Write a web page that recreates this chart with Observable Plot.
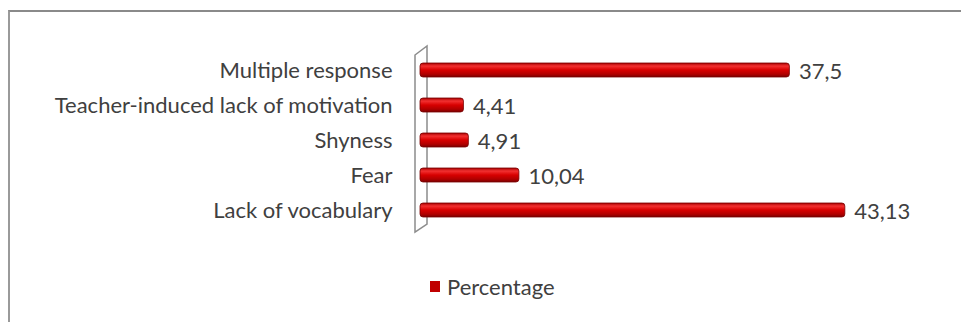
<!DOCTYPE html>
<html>
<head>
<meta charset="utf-8">
<script src="https://cdn.jsdelivr.net/npm/d3@7"></script>
<script src="https://cdn.jsdelivr.net/npm/@observablehq/plot@0.6"></script>
<style>
  html, body { margin: 0; padding: 0; background: #fff; }
  #wrap { position: relative; width: 961px; height: 322px; overflow: hidden; background: #fff; font-family: Lato, "Open Sans", sans-serif; }
  #frame { position: absolute; left: 8px; top: 10px; width: 960px; height: 330px; border-top: 2px solid #8a8a8a; border-left: 2px solid #9a9a9a; box-sizing: border-box; }
  #chart { position: absolute; left: 0; top: 0; }
  #legend { position: absolute; left: 430px; top: 273px; font-size: 22px; color: #404040; display: flex; align-items: center; }
  #legend .sw { width: 10px; height: 11px; background: #c00000; margin-right: 7px; }
</style>
</head>
<body>
<div id="wrap">
  <div id="frame"></div>
  <div id="chart"></div>
  <div id="legend"><span class="sw"></span><span id="legendLabel"></span></div>
</div>
<script>
const categories = ["Multiple response", "Teacher-induced lack of motivation", "Shyness", "Fear", "Lack of vocabulary"];
const values = [37.5, 4.41, 4.91, 10.04, 43.13];
const valueLabels = ["37,5", "4,41", "4,91", "10,04", "43,13"];
const seriesName = "Percentage";

const data = categories.map((c, i) => ({category: c, value: values[i], label: valueLabels[i]}));

function wall(index, scales, values, dimensions) {
  const x0 = scales.x(0);
  const top = dimensions.marginTop - 4;
  const bottom = dimensions.height - dimensions.marginBottom + 3;
  const g = document.createElementNS("http://www.w3.org/2000/svg", "path");
  const l = x0 - 5, r = x0 + 7;
  g.setAttribute("d", `M${l},${top + 9} L${r},${top} L${r},${bottom - 8} L${l},${bottom} Z`);
  g.setAttribute("fill", "none");
  g.setAttribute("stroke", "#8c8c8c");
  g.setAttribute("stroke-width", "1.5");
  return g;
}

const plot = Plot.plot({
  width: 961,
  height: 250,
  marginLeft: 420,
  marginRight: 48.5,
  marginTop: 50,
  marginBottom: 21,
  style: { fontFamily: "Lato, 'Open Sans', sans-serif", fontSize: "22px", color: "#404040", background: "transparent" },
  x: { domain: [0, 50], axis: null },
  y: { domain: categories, paddingInner: 0.6, paddingOuter: 0.3, label: null, tickSize: 0, tickPadding: 28 },
  marks: [
    wall,
    Plot.barX(data, { x: "value", y: "category", fill: "url(#barGrad)", stroke: "#7a0000", strokeWidth: 0.8, rx: 3 }),
    Plot.text(data, { x: "value", y: "category", text: "label", textAnchor: "start", dx: 9, dy: 1, fill: "#404040", fontSize: 22 })
  ]
});

const ns = "http://www.w3.org/2000/svg";
const defs = document.createElementNS(ns, "defs");
defs.innerHTML = `<linearGradient id="barGrad" x1="0" y1="0" x2="0" y2="1">
  <stop offset="0%" stop-color="#a80000"/>
  <stop offset="22%" stop-color="#f23030"/>
  <stop offset="50%" stop-color="#d80000"/>
  <stop offset="80%" stop-color="#b00000"/>
  <stop offset="100%" stop-color="#7a0000"/>
</linearGradient>`;
plot.insertBefore(defs, plot.firstChild);
plot.querySelectorAll("g[aria-label='y-axis tick label']").forEach(t => { t.setAttribute("fill", "#404040"); t.setAttribute("font-size", "22"); });
document.getElementById("chart").appendChild(plot);
document.getElementById("legendLabel").textContent = seriesName;
</script>
</body>
</html>
